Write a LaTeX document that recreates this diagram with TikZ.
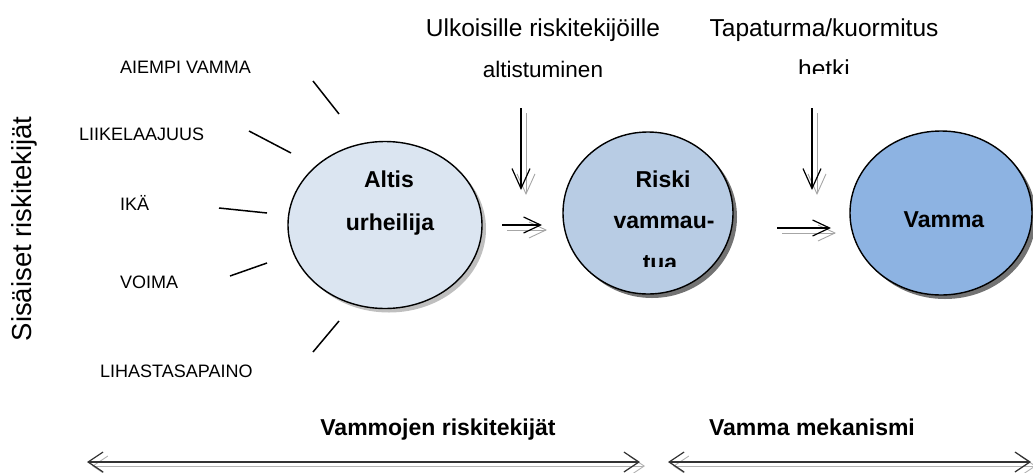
\documentclass[tikz,border=0pt]{standalone}
\usepackage{fontspec}
\setmainfont{Liberation Sans}
\usetikzlibrary{shapes.geometric,arrows.meta,shadows}
\definecolor{fillA}{HTML}{DBE5F1}
\definecolor{fillB}{HTML}{B8CCE4}
\definecolor{fillC}{HTML}{8DB3E2}
\begin{document}
\begin{tikzpicture}[x=1pt,y=-1pt,
  ell/.style={ellipse, draw=black, line width=1.4pt, inner sep=0pt, outer sep=0pt},
  shA/.style={drop shadow={shadow xshift=4pt, shadow yshift=-4pt, fill=black!25, opacity=1}},
  shB/.style={drop shadow={shadow xshift=4pt, shadow yshift=-4pt, fill=black!55, opacity=1}},
  lbl/.style={font=\fontsize{18}{20}\selectfont, inner sep=0pt, anchor=base west},
  toptxt/.style={font=\fontsize{24.5}{27}\selectfont, inner sep=0pt, anchor=base},
  toptxtb/.style={font=\fontsize{22.5}{25}\selectfont, inner sep=0pt, anchor=base},
  boldtxt/.style={font=\fontsize{23}{26}\selectfont\bfseries, inner sep=0pt, anchor=base},
  ray/.style={line width=1.5pt},
  varr/.style={line width=1.2pt, -{Straight Barb[length=20pt,width=18pt]}},
  harr/.style={line width=1.2pt, -{Straight Barb[length=17pt,width=16pt]}},
  darr/.style={line width=1.2pt, draw=black!80, {Straight Barb[length=15pt,width=20pt]}-{Straight Barb[length=15pt,width=20pt]}},
  shad/.style={draw=black!35, line width=0.9pt, transform canvas={shift={(5pt,-5pt)}}},
  dshad/.style={draw=black!30, line width=0.9pt, transform canvas={shift={(5pt,-4pt)}}}
]
\useasboundingbox (0,0) rectangle (1033,472);

% ellipses
\node[ell, shA, fill=fillA, minimum width=194pt, minimum height=167pt] (altis) at (385,225) {};
\node[ell, shB, fill=fillB, minimum width=170pt, minimum height=162pt] (riski) at (648,213) {};
\node[ell, shB, fill=fillC, minimum width=182pt, minimum height=164pt] (vamma) at (941,213) {};

% ellipse texts
\node[boldtxt] (t1) at (389,187) {Altis};
\node[boldtxt] (t2) at (390,230) {urheilija};
\node[boldtxt] (t3) at (663,187) {Riski};
\node[boldtxt] (t4) at (664,228) {vammau-};
\begin{scope}
  \clip (600,240) rectangle (720,266);
  \node[boldtxt] (t5) at (660,270) {tua};
\end{scope}
\node[boldtxt] (t6) at (944,227) {Vamma};

% top texts
\node[toptxt] (u1) at (543,36) {Ulkoisille riskitekijöille};
\node[toptxtb] (u2) at (543,77) {altistuminen};
\node[toptxt] (p1) at (824,36) {Tapaturma/kuormitus};
\begin{scope}
  \clip (760,45) rectangle (890,73.5);
  \node[toptxt] (p2) at (824,77) {hetki};
\end{scope}

% side text
\node[font=\fontsize{27.5}{30}\selectfont, inner sep=0pt, rotate=90] (side) at (24,229) {Sisäiset riskitekijät};

% left labels
\node[lbl] (l1) at (120,73) {AIEMPI VAMMA};
\node[lbl] (l2) at (79,140) {LIIKELAAJUUS};
\node[lbl] (l3) at (120,210) {IKÄ};
\node[lbl] (l4) at (120,288) {VOIMA};
\node[lbl] (l5) at (100,377) {LIHASTASAPAINO};

% rays
\coordinate (r1a) at (313,81);  \coordinate (r1b) at (339,114);
\coordinate (r2a) at (249,131); \coordinate (r2b) at (291,153);
\coordinate (r3a) at (219,208); \coordinate (r3b) at (267,213);
\coordinate (r4a) at (230,276); \coordinate (r4b) at (267,263);
\coordinate (r5a) at (313,352); \coordinate (r5b) at (339,321);
\foreach \i in {1,...,5} { \draw[ray] (r\i a) -- (r\i b); }

% vertical arrows
\coordinate (v1a) at (521,108); \coordinate (v1b) at (521,190);
\coordinate (v2a) at (812,108); \coordinate (v2b) at (812,190);
% horizontal arrows
\coordinate (h1a) at (502,225); \coordinate (h1b) at (542,225);
\coordinate (h2a) at (777,228); \coordinate (h2b) at (831,228);

\draw[varr, shad] (v1a) -- (v1b);
\draw[varr, shad] (v2a) -- (v2b);
\draw[harr, shad] (h1a) -- (h1b);
\draw[harr, shad] (h2a) -- (h2b);
\draw[varr] (v1a) -- (v1b);
\draw[varr] (v2a) -- (v2b);
\draw[harr] (h1a) -- (h1b);
\draw[harr] (h2a) -- (h2b);

% bottom labels
\node[boldtxt] (b1) at (438,435) {Vammojen riskitekijät};
\node[boldtxt] (b2) at (812,435) {Vamma mekanismi};

% bottom double arrows
\coordinate (d1a) at (87,462);  \coordinate (d1b) at (640,462);
\coordinate (d2a) at (668,462); \coordinate (d2b) at (1031,462);
\draw[darr, dshad] (d1a) -- (d1b);
\draw[darr, dshad] (d2a) -- (d2b);
\draw[darr] (d1a) -- (d1b);
\draw[darr] (d2a) -- (d2b);
\end{tikzpicture}
\end{document}
